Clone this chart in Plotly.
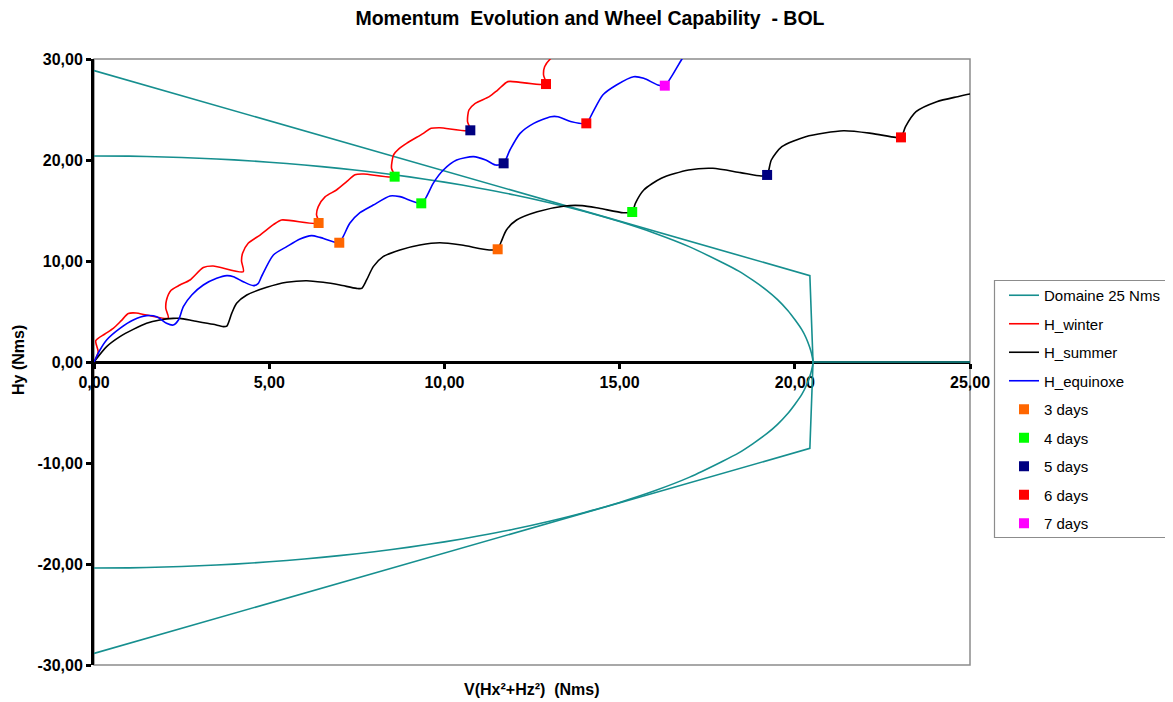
import plotly.graph_objects as go

# ---------------- data ----------------
# Domaine 25 Nms - capability ellipse (upper then lower branch)
dom_ell_x = [0, 1, 2, 3, 4, 5, 6, 7, 8, 9, 10, 11, 12, 13, 14, 15, 16, 17, 17.9, 18.4,
             18.8, 19.2, 19.5, 19.8, 20.0, 20.2, 20.32, 20.42, 20.48, 20.52,
             20.48, 20.42, 20.32, 20.2, 20.0, 19.8, 19.5, 19.2, 18.8, 18.4, 17.9, 17, 16, 15,
             14, 13, 12, 11, 10, 9, 8, 7, 6, 5, 4, 3, 2, 1, 0]
dom_ell_y = [20.40, 20.38, 20.30, 20.18, 20.01, 19.78, 19.51, 19.17, 18.78, 18.33, 17.81,
             17.21, 16.54, 15.77, 14.90, 13.90, 12.75, 11.40, 9.90, 9.00,
             8.10, 7.10, 6.20, 5.10, 4.20, 3.20, 2.40, 1.50, 0.80, 0.00,
             -0.80, -1.50, -2.40, -3.20, -4.20, -5.10, -6.20, -7.10, -8.10, -9.00, -9.90,
             -11.40, -12.75, -13.90, -14.90, -15.77, -16.54, -17.21, -17.81, -18.33, -18.78,
             -19.17, -19.51, -19.78, -20.01, -20.18, -20.30, -20.38, -20.40]
# Domaine 25 Nms - polygonal envelope and the zero segment
dom_poly_x = [0, 20.43, 20.52, 20.43, 0, None, 20.52, 25.0]
dom_poly_y = [28.85, 8.55, 0.0, -8.55, -28.85, None, 0.0, 0.0]

winter_x = [0, 0.12, 0.05, 0.30, 0.55, 0.78, 0.98, 1.20, 1.50, 2.12, 2.05, 2.07, 2.20, 2.45,
            2.74, 3.12, 3.40, 4.26, 4.21, 4.24, 4.40, 4.74, 5.12, 5.35, 6.41, 6.35, 6.40,
            6.60, 6.92, 7.21, 7.45, 7.70, 8.58, 8.49, 8.55, 8.70, 8.92, 9.40, 9.62, 9.87,
            10.74, 10.66, 10.70, 10.88, 11.28, 11.52, 11.81, 12.16, 12.90, 12.83, 12.86,
            13.02, 13.25]
winter_y = [0, 1.0, 2.1, 2.75, 3.33, 4.1, 4.8, 4.85, 4.65, 4.35, 5.3, 6.14, 7.1, 7.62,
            8.12, 9.35, 9.5, 8.94, 10.0, 10.76, 11.75, 12.57, 13.6, 14.06, 13.76, 14.6, 15.38,
            16.37, 17.03, 17.85, 18.55, 18.61, 18.35, 19.2, 20.5, 21.1, 21.65, 22.64, 23.14, 23.2,
            22.94, 23.8, 24.95, 25.61, 26.27, 26.93, 27.76, 27.69, 27.52, 28.42, 29.24,
            30.0, 30.6]

summer_x = [0, 0.36, 0.74, 1.12, 1.50, 1.88, 2.26, 2.45, 2.83, 3.40, 3.69, 3.79, 3.93, 4.07,
            4.36, 4.93, 5.50, 6.07, 6.54, 7.02, 7.49, 7.64, 7.78, 7.97, 8.25, 8.73, 9.30,
            9.87, 10.49, 11.28, 11.52, 11.62, 11.77, 12.06, 12.65, 13.44, 13.93, 14.42,
            15.11, 15.36, 15.45, 15.69, 16.19, 16.97, 17.66, 18.45, 19.04, 19.21, 19.33,
            19.63, 20.31, 21.39, 22.18, 22.87, 23.03, 23.16, 23.46, 24.05, 24.64, 25.0, 25.3]
summer_y = [0, 1.52, 2.51, 3.23, 3.83, 4.16, 4.32, 4.32, 4.09, 3.73, 3.50, 3.56, 4.82, 5.81,
            6.63, 7.39, 7.89, 8.05, 7.89, 7.62, 7.29, 7.29, 8.12, 9.44, 10.43, 11.09, 11.58,
            11.81, 11.58, 11.09, 11.16, 11.91, 13.07, 14.06, 14.88, 15.45, 15.48, 15.22,
            14.78, 14.85, 15.71, 17.03, 18.19, 19.01, 19.18, 18.75, 18.42, 18.52, 20.0,
            21.32, 22.31, 22.9, 22.64, 22.24, 22.24, 23.3, 24.78, 25.77, 26.27, 26.53, 26.6]

equinox_x = [0, 0.17, 0.36, 0.74, 1.12, 1.50, 1.79, 2.07, 2.26, 2.41, 2.55, 2.79, 3.12, 3.50,
             3.79, 3.98, 4.26, 4.55, 4.69, 4.78, 5.12, 5.50, 5.88, 6.21, 6.45, 7.00, 7.11,
             7.30, 7.59, 7.97, 8.45, 8.73, 9.34, 9.49, 9.68, 9.97, 10.35, 10.83, 11.18,
             11.47, 11.69, 11.87, 12.16, 12.55, 13.04, 13.24, 13.63, 14.05, 14.22, 14.52,
             14.91, 15.40, 15.69, 16.09, 16.29, 16.48, 16.78, 16.95]
equinox_y = [0, 1.19, 2.18, 3.33, 4.16, 4.59, 4.49, 3.83, 3.66, 4.16, 5.48, 6.63, 7.62, 8.28,
             8.55, 8.45, 7.95, 7.56, 7.79, 8.45, 10.59, 11.42, 12.18, 12.51, 12.34, 11.81, 12.41,
             13.73, 14.78, 15.54, 16.44, 16.37, 15.71, 16.37, 17.69, 19.01, 20.0, 20.33, 20.0,
             19.5, 19.67, 20.99, 22.64, 23.63, 24.29, 24.29, 23.79, 23.63, 24.62, 26.44,
             27.43, 28.25, 28.09, 27.43, 27.36, 28.25, 30.0, 30.8]

days3_x = [6.41, 7.00, 11.52]
days3_y = [13.76, 11.81, 11.16]
days4_x = [8.58, 9.34, 15.36]
days4_y = [18.35, 15.71, 14.85]
days5_x = [10.74, 11.69, 19.21]
days5_y = [22.94, 19.67, 18.52]
days6_x = [12.90, 14.05, 23.03]
days6_y = [27.52, 23.63, 22.24]
days7_x = [16.29]
days7_y = [27.36]

x_tickvals = [0, 5, 10, 15, 20, 25]
x_ticktext = ["0,00", "5,00", "10,00", "15,00", "20,00", "25,00"]
y_tickvals = [-30, -20, -10, 0, 10, 20, 30]
y_ticktext = ["-30,00", "-20,00", "-10,00", "0,00", "10,00", "20,00", "30,00"]

# ---------------- styling ----------------
TEAL = "#168F8F"
FONT = "Liberation Sans"
OFF = 8                      # page body margin in the browser
W, H = 1173 - OFF, 702 - OFF
L, T = 94 - OFF, 59 - OFF
PR, PB = 970 - OFF, 665 - OFF   # plot right / bottom in figure pixels
R, B = W - PR, H - PB
PW, PH = PR - L, PB - T


def sx(px):  # screenshot x pixel -> paper
    return (px - OFF - L) / PW


def sy(py):  # screenshot y pixel -> paper
    return (PB - (py - OFF)) / PH


fig = go.Figure()

fig.add_trace(go.Scatter(x=dom_ell_x, y=dom_ell_y, mode="lines", name="Domaine 25 Nms",
                         legendgroup="dom", line=dict(color=TEAL, width=1.6, shape="spline",
                                                      smoothing=0.8)))
fig.add_trace(go.Scatter(x=dom_poly_x, y=dom_poly_y, mode="lines", name="Domaine 25 Nms",
                         legendgroup="dom", showlegend=False, connectgaps=False,
                         line=dict(color=TEAL, width=1.6)))

for name, xs, ys, col in [("H_winter", winter_x, winter_y, "#FF0000"),
                          ("H_summer", summer_x, summer_y, "#000000"),
                          ("H_equinoxe", equinox_x, equinox_y, "#0000FF")]:
    fig.add_trace(go.Scatter(x=xs, y=ys, mode="lines", name=name, legendgroup=name,
                             line=dict(color=col, width=1.6, shape="spline", smoothing=0.7)))

for name, xs, ys, col in [("3 days", days3_x, days3_y, "#FF6600"),
                          ("4 days", days4_x, days4_y, "#00FF00"),
                          ("5 days", days5_x, days5_y, "#000080"),
                          ("6 days", days6_x, days6_y, "#FF0000"),
                          ("7 days", days7_x, days7_y, "#FF00FF")]:
    fig.add_trace(go.Scatter(x=xs, y=ys, mode="markers", name=name, legendgroup=name,
                             marker=dict(symbol="square", size=10, color=col,
                                         line=dict(width=0))))

fig.update_layout(
    width=W, height=H,
    margin=dict(l=L, r=R, t=T, b=B, autoexpand=False),
    paper_bgcolor="white", plot_bgcolor="white",
    font=dict(family=FONT, color="black"),
    title=dict(text="Momentum  Evolution and Wheel Capability  - BOL",
               x=(590 - OFF) / W, xref="container", xanchor="center",
               y=1 - (18 - OFF) / H, yref="container", yanchor="middle",
               font=dict(family=FONT, size=19.5, weight="bold", color="black")),
    xaxis=dict(range=[0, 25], tickvals=x_tickvals, ticktext=x_ticktext,
               anchor="free", position=0.5, showline=True, linecolor="black", linewidth=3,
               ticks="outside", ticklen=5, tickwidth=3, tickcolor="black",
               showgrid=False, zeroline=False, layer="below traces",
               tickfont=dict(family=FONT, size=16, weight="bold", color="black"),
               automargin=False),
    yaxis=dict(range=[-30, 30], tickvals=y_tickvals, ticktext=y_ticktext,
               showline=True, linecolor="black", linewidth=3,
               ticks="outside", ticklen=5, tickwidth=3, tickcolor="black",
               showgrid=False, zeroline=False, layer="below traces",
               tickfont=dict(family=FONT, size=16, weight="bold", color="black"),
               automargin=False),
    showlegend=True,
    legend=dict(x=sx(1004), y=sy(279), xanchor="left", yanchor="top",
                xref="paper", yref="paper", bgcolor="rgba(0,0,0,0)", borderwidth=0,
                traceorder="grouped", tracegroupgap=6,
                font=dict(family=FONT, size=15, color="black")),
    shapes=[
        dict(type="rect", xref="paper", yref="paper", x0=0, x1=1, y0=0, y1=1,
             line=dict(color="#8C8C8C", width=1.5), layer="below"),
        dict(type="rect", xref="paper", yref="paper",
             x0=sx(994.5), x1=sx(1172.5), y0=sy(537.5), y1=sy(280.5),
             line=dict(color="#8C8C8C", width=1.2), layer="below"),
    ],
    annotations=[
        dict(text="Hy (Nms)", xref="paper", yref="paper", x=sx(18),
             y=sy(360), textangle=-90, showarrow=False, xanchor="center",
             yanchor="middle", font=dict(family=FONT, size=16, weight="bold", color="black")),
        dict(text="V(Hx²+Hz²)  (Nms)", xref="paper", yref="paper", x=sx(532),
             y=sy(690), showarrow=False, xanchor="center", yanchor="middle",
             font=dict(family=FONT, size=16, weight="bold", color="black")),
    ],
)

fig.write_html("out.html")
